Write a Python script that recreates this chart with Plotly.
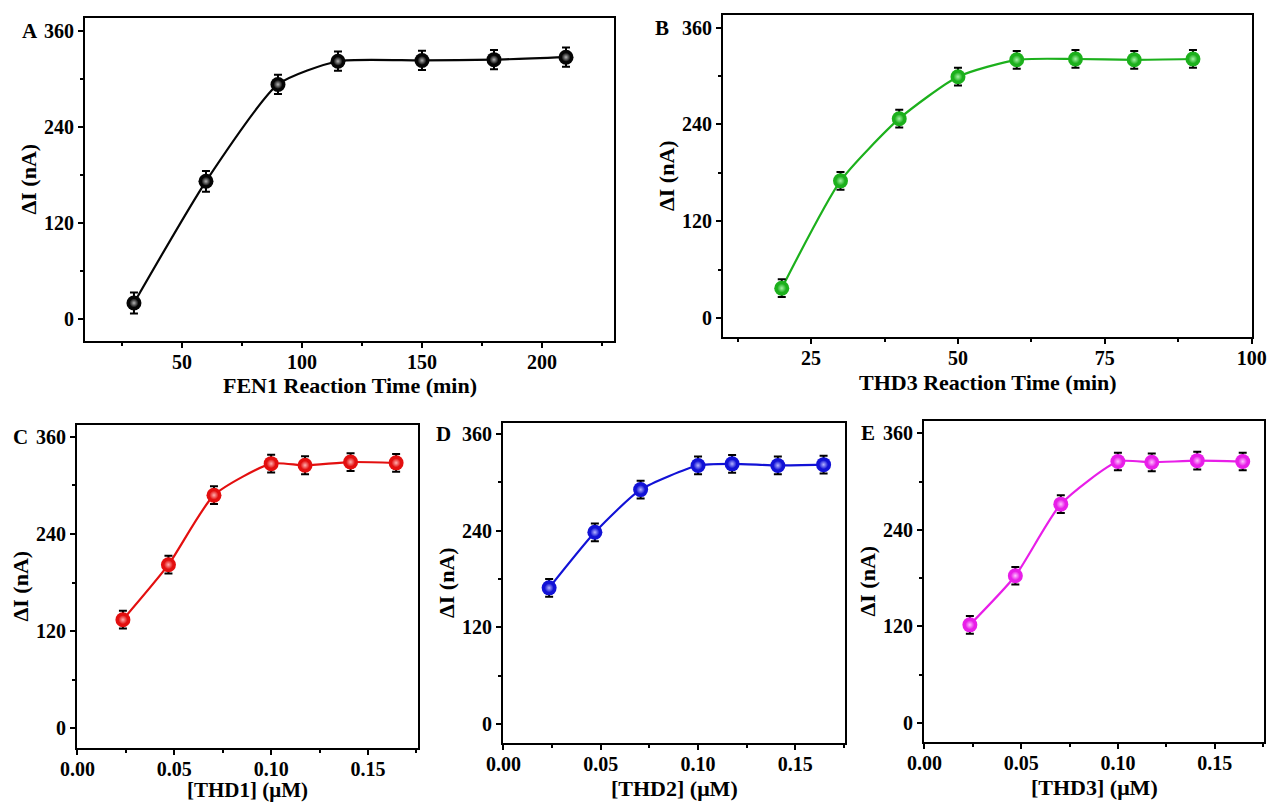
import plotly.graph_objects as go

# ---------------- data ----------------
fen1_time = [30, 60, 90, 115, 150, 180, 210]
fen1_di = [20, 172, 293, 322, 323, 324, 327]
fen1_err = [13, 13, 12, 12, 12, 12, 12]

thd3_time = [20, 30, 40, 50, 60, 70, 80, 90]
thd3_time_di = [37, 170, 247, 299, 320, 321, 320, 321]
thd3_time_err = [11, 11, 11, 11, 11, 11, 11, 11]

conc = [0.0235, 0.047, 0.0705, 0.1, 0.1175, 0.141, 0.1645]
thd1_di = [134, 202, 288, 327, 325, 329, 328]
thd1_err = [11, 11, 11, 11, 11, 11, 11]
thd2_di = [169, 238, 291, 321, 323, 321, 322]
thd2_err = [11, 11, 11, 11, 11, 11, 11]
thd3_di = [122, 183, 272, 325, 324, 326, 325]
thd3_err = [11, 11, 11, 11, 11, 11, 11]

W, H = 1267, 803
FONT = "Liberation Serif"

# panel frames in page pixels: (left, top, right, bottom)
panels = [
    dict(key="A", box=(85, 18, 614, 341), x=fen1_time, y=fen1_di, e=fen1_err,
         col="#050505", hi="#b4b4b4", xr=[9.6, 230], yr=[-27.5, 376],
         dt=50, mdt=25, fmt="", xt="FEN1 Reaction Time (min)", tpad=45, tsize=22),
    dict(key="B", box=(723, 15, 1252, 337), x=thd3_time, y=thd3_time_di, e=thd3_time_err,
         col="#1cb01c", hi="#a6f2a6", xr=[10, 100.05], yr=[-23.5, 375.5],
         dt=25, mdt=12.5, fmt="", xt="THD3 Reaction Time (min)", tpad=45, tsize=22),
    dict(key="C", box=(77, 425, 418, 748), x=conc, y=thd1_di, e=thd1_err,
         col="#e30f0f", hi="#ffb0b0", xr=[-0.0002, 0.1758], yr=[-24.7, 374.8],
         dt=0.05, mdt=0.025, fmt=".2f", xt="[THD1] (μM)", tpad=42, tsize=21),
    dict(key="D", box=(503, 423, 845, 743), x=conc, y=thd2_di, e=thd2_err,
         col="#1212d6", hi="#b4b4ff", xr=[-0.0002, 0.1755], yr=[-23.6, 373.7],
         dt=0.05, mdt=0.025, fmt=".2f", xt="[THD2] (μM)", tpad=45, tsize=22),
    dict(key="E", box=(924, 421, 1264, 742), x=conc, y=thd3_di, e=thd3_err,
         col="#e81ee8", hi="#ffc0ff", xr=[-0.0002, 0.1755], yr=[-23.6, 375.3],
         dt=0.05, mdt=0.025, fmt=".2f", xt="[THD3] (μM)", tpad=45, tsize=22),
]

fig = go.Figure()
annotations = []
layout_axes = {}

for i, p in enumerate(panels):
    n = "" if i == 0 else str(i + 1)
    xa, ya = "x" + n, "y" + n
    l, t, r, b = p["box"]
    xdom = [l / W, r / W]
    ydom = [1 - b / H, 1 - t / H]

    # smooth trend line through the measured points
    fig.add_trace(go.Scatter(
        x=p["x"], y=p["y"], mode="lines", xaxis=xa, yaxis=ya,
        line=dict(color=p["col"], width=2.2, shape="spline", smoothing=0.6),
        hoverinfo="skip", showlegend=False))
    # measured points with error bars
    fig.add_trace(go.Scatter(
        x=p["x"], y=p["y"], mode="markers", xaxis=xa, yaxis=ya,
        marker=dict(size=15, color=p["col"], line=dict(width=0)),
        error_y=dict(type="data", array=p["e"], visible=True,
                     color="black", thickness=2, width=4),
        showlegend=False))
    # glossy highlight on each sphere
    fig.add_trace(go.Scatter(
        x=p["x"], y=p["y"], mode="markers", xaxis=xa, yaxis=ya,
        marker=dict(size=9, color=p["col"],
                    gradient=dict(type="radial", color=p["hi"]),
                    line=dict(width=0)),
        hoverinfo="skip", showlegend=False))

    tickfont = dict(family=FONT, size=20, color="black", weight="bold")
    common = dict(
        showgrid=False, zeroline=False, automargin=False,
        showline=True, linecolor="black", linewidth=2, mirror=True,
        ticks="outside", ticklen=5, tickwidth=2, tickcolor="black",
        tick0=0, tickfont=tickfont,
    )
    layout_axes["xaxis" + n] = dict(
        domain=xdom, anchor=ya, range=p["xr"], dtick=p["dt"],
        tickformat=p["fmt"], ticklabelstandoff=-3,
        minor=dict(ticks="outside", ticklen=3, tickwidth=2, tickcolor="black",
                   dtick=p["mdt"], tick0=0, showgrid=False),
        **common,
    )
    layout_axes["yaxis" + n] = dict(
        domain=ydom, anchor=xa, range=p["yr"], dtick=120,
        minor=dict(ticks="outside", ticklen=3, tickwidth=2, tickcolor="black",
                   dtick=60, tick0=0, showgrid=False),
        **common,
    )

    # x-axis title
    annotations.append(dict(
        text=p["xt"], x=(l + r) / 2 / W, y=1 - (b + p["tpad"]) / H,
        xref="paper", yref="paper", showarrow=False,
        xanchor="center", yanchor="middle",
        font=dict(family=FONT, size=p["tsize"], color="black", weight="bold")))
    # y-axis title
    annotations.append(dict(
        text="ΔI (nA)", x=(l - 57) / W, y=1 - (t + b) / 2 / H,
        xref="paper", yref="paper", showarrow=False, textangle=-90,
        xanchor="center", yanchor="middle",
        font=dict(family=FONT, size=22, color="black", weight="bold")))

# panel letters
letter_pos = {"A": (30, 31), "B": (662, 28), "C": (20, 437), "D": (443, 434), "E": (868, 433)}
for k, (px, py) in letter_pos.items():
    annotations.append(dict(
        text=k, x=px / W, y=1 - py / H, xref="paper", yref="paper",
        showarrow=False, xanchor="center", yanchor="middle",
        font=dict(family=FONT, size=21, color="black", weight="bold")))

fig.update_layout(
    template="none",
    width=W, height=H, autosize=False,
    margin=dict(l=0, r=0, t=0, b=0, pad=0),
    paper_bgcolor="white", plot_bgcolor="white",
    annotations=annotations,
    **layout_axes,
)

fig.write_html("out.html")
